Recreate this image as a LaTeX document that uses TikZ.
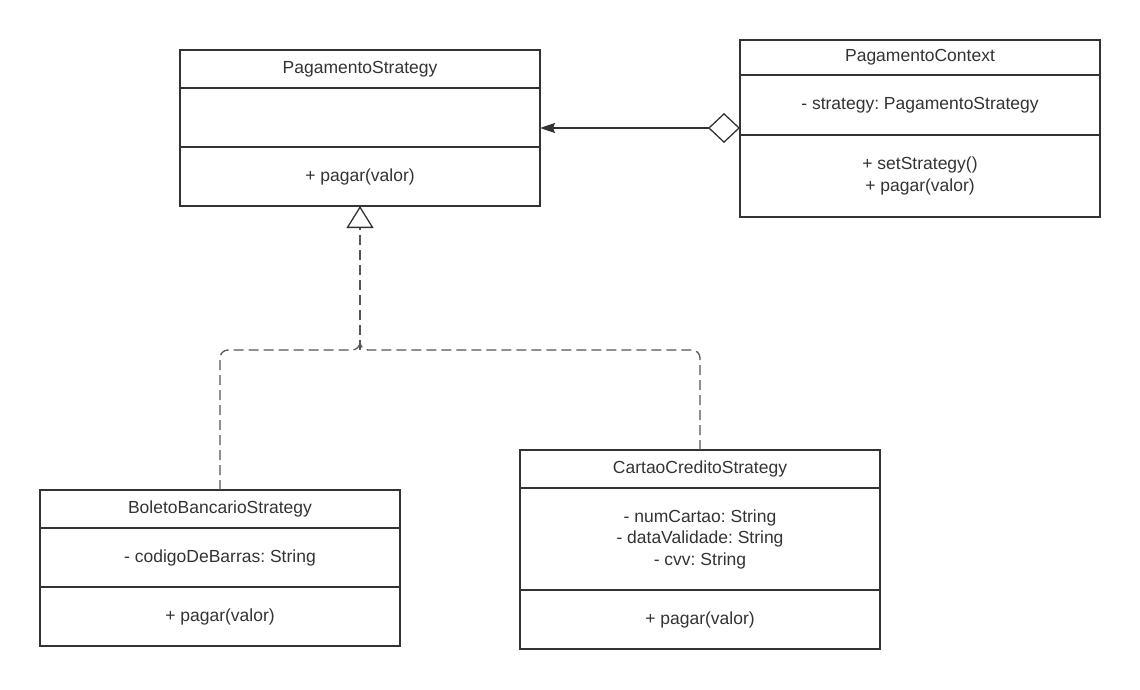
\documentclass[tikz,border=0pt]{standalone}
\usepackage{fontspec}
\setmainfont{Liberation Sans}
\usetikzlibrary{arrows.meta,positioning}
\definecolor{umlline}{RGB}{51,51,51}
\definecolor{umldash}{RGB}{85,85,85}
\frenchspacing

\begin{document}
\begin{tikzpicture}[
    x=1pt, y=-1pt,
    part/.style={draw=umlline, line width=2pt, minimum width=360pt, inner sep=0pt, outer sep=0pt,
                 align=center, text=umlline, font=\fontsize{17.5}{21.5}\selectfont},
    head/.style={part, minimum height=38pt},
    aggr/.style={draw=umlline, line width=1.3pt,
                 {Diamond[open, length=32pt, width=30pt, fill=white]}-{Stealth[length=15pt, width=10pt, inset=2pt]}},
    real/.style={draw=umldash, line width=1.3pt, dash pattern=on 10pt off 5pt},
  ]
  \useasboundingbox (0,0) rectangle (1140,690);

  %% ---------------- PagamentoStrategy ----------------
  \node[head, anchor=north] (psT) at (360,50) {PagamentoStrategy};
  \node[part, minimum height=59pt, below=0pt of psT] (psA) {};
  \node[part, minimum height=59pt, below=0pt of psA] (psM) {+ pagar(valor)};

  %% ---------------- PagamentoContext ----------------
  \node[head, minimum height=35pt, anchor=north] (pcT) at (920,40) {PagamentoContext};
  \node[part, minimum height=60pt, below=0pt of pcT] (pcA) {- strategy: PagamentoStrategy};
  \node[part, minimum height=82pt, below=0pt of pcA] (pcM) {+ setStrategy()\\+ pagar(valor)};

  %% ---------------- BoletoBancarioStrategy ----------------
  \node[head, anchor=north] (bbT) at (220,490) {BoletoBancarioStrategy};
  \node[part, minimum height=59pt, below=0pt of bbT] (bbA) {- codigoDeBarras: String};
  \node[part, minimum height=59pt, below=0pt of bbA] (bbM) {+ pagar(valor)};

  %% ---------------- CartaoCreditoStrategy ----------------
  \node[head, anchor=north] (ccT) at (700,450) {CartaoCreditoStrategy};
  \node[part, minimum height=102pt, below=0pt of ccT] (ccA)
    {- numCartao: String\\- dataValidade: String\\- cvv: String};
  \node[part, minimum height=59pt, below=0pt of ccA] (ccM) {+ pagar(valor)};

  %% ---------------- aggregation ----------------
  \coordinate (aggR) at ([yshift=-23pt]pcA.west);
  \draw[aggr] (aggR) -- (aggR -| psA.east);

  %% ---------------- realization ----------------
  \coordinate (junc) at (360,350);
  \draw[real, rounded corners=8pt] (bbT.north) |- (junc) -- ([yshift=8pt]junc);
  \draw[real, rounded corners=8pt] (ccT.north) |- (junc) -- ([yshift=8pt]junc);
  \draw[real, -{Triangle[open, length=22pt, width=27pt, fill=white, line width=1.3pt, umlline]}]
    (junc) -- (psM.south);

\end{tikzpicture}
\end{document}
